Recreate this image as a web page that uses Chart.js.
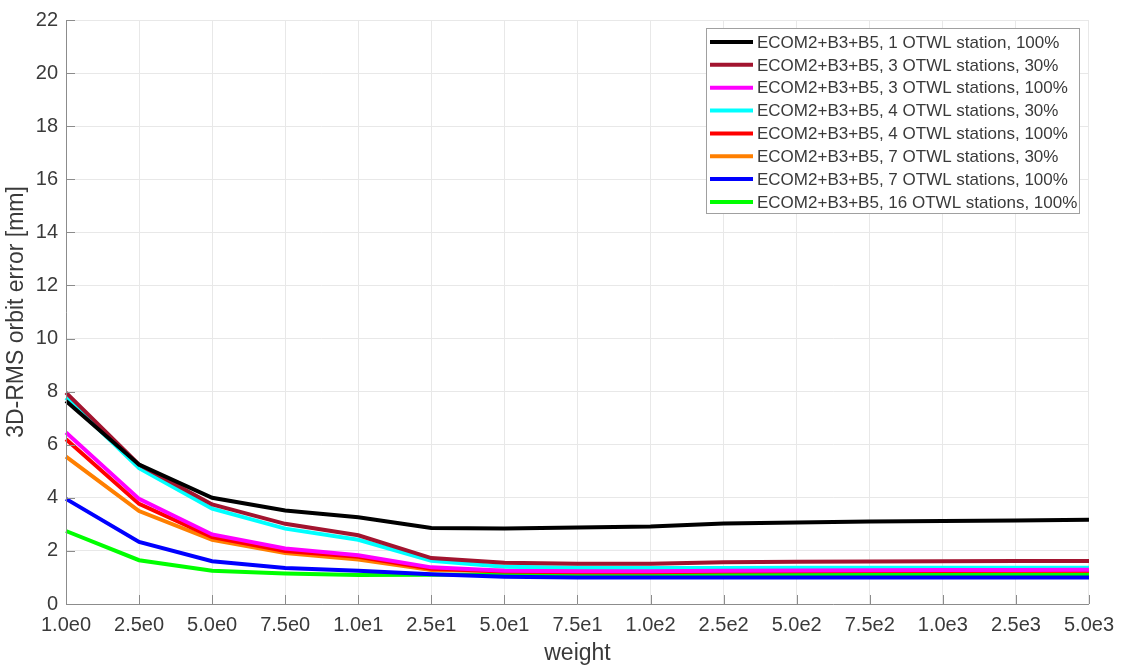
<!DOCTYPE html>
<html>
<head>
<meta charset="utf-8">
<script src="https://cdn.jsdelivr.net/npm/chart.js@4/dist/chart.umd.min.js"></script>
<style>
  html, body { margin: 0; padding: 0; background: #fff; }
  canvas { display: block; }
</style>
</head>
<body>
<canvas id="orbit" width="1123" height="667"></canvas>
<script>
const weights = ['1.0e0', '2.5e0', '5.0e0', '7.5e0', '1.0e1', '2.5e1', '5.0e1', '7.5e1',
    '1.0e2', '2.5e2', '5.0e2', '7.5e2', '1.0e3', '2.5e3', '5.0e3']
const seriesNames = [
    'ECOM2+B3+B5, 1 OTWL station, 100%',
    'ECOM2+B3+B5, 3 OTWL stations, 30%',
    'ECOM2+B3+B5, 3 OTWL stations, 100%',
    'ECOM2+B3+B5, 4 OTWL stations, 30%',
    'ECOM2+B3+B5, 4 OTWL stations, 100%',
    'ECOM2+B3+B5, 7 OTWL stations, 30%',
    'ECOM2+B3+B5, 7 OTWL stations, 100%',
    'ECOM2+B3+B5, 16 OTWL stations, 100%',
]
const st1_100 = [7.65, 5.25, 4.0, 3.52, 3.27, 2.86, 2.84, 2.88, 2.92, 3.03, 3.07, 3.11, 3.13, 3.15, 3.17]
const st3_30 = [7.96, 5.25, 3.75, 3.02, 2.59, 1.73, 1.55, 1.52, 1.52, 1.57, 1.59, 1.60, 1.61, 1.62, 1.62]
const st3_100 = [6.46, 3.96, 2.62, 2.09, 1.84, 1.38, 1.25, 1.23, 1.23, 1.25, 1.26, 1.27, 1.28, 1.28, 1.29]
const st4_30 = [7.77, 5.12, 3.59, 2.84, 2.42, 1.63, 1.40, 1.37, 1.36, 1.36, 1.37, 1.37, 1.37, 1.37, 1.37]
const st4_100 = [6.21, 3.77, 2.52, 2.0, 1.78, 1.33, 1.22, 1.2, 1.2, 1.22, 1.23, 1.24, 1.24, 1.25, 1.25]
const st7_30 = [5.55, 3.50, 2.42, 1.92, 1.68, 1.28, 1.25, 1.24, 1.24, 1.25, 1.25, 1.25, 1.25, 1.25, 1.25]
const st7_100 = [3.96, 2.34, 1.61, 1.36, 1.25, 1.12, 1.03, 1.0, 1.0, 1.0, 1.0, 1.0, 1.0, 1.0, 1.0]
const st16_100 = [2.75, 1.65, 1.25, 1.15, 1.09, 1.10, 1.11, 1.11, 1.11, 1.12, 1.12, 1.12, 1.12, 1.12, 1.12]
const seriesValues = [st1_100, st3_30, st3_100, st4_30, st4_100, st7_30, st7_100, st16_100]
const colors = ['#000000', '#a2142f', '#ff00ff', '#00ffff', '#ff0000', '#ff7f00', '#0000ff', '#00ff00']

const FONT = 'Liberation Sans, Arial, sans-serif'
const TEXT = '#3a3a3a'

// ticks pointing inward, like matlab axes
const innerTicks = {
    id: 'innerTicks',
    afterDatasetsDraw(chart) {
        const ctx = chart.ctx, area = chart.chartArea
        const xs = chart.scales.x, ys = chart.scales.y
        ctx.save()
        ctx.strokeStyle = '#8c8c8c'
        ctx.lineWidth = 1
        ctx.beginPath()
        xs.ticks.forEach((t, i) => {
            const px = Math.round(xs.getPixelForTick(i)) + 0.5
            ctx.moveTo(px, area.bottom)
            ctx.lineTo(px, area.bottom - 9)
        })
        ys.ticks.forEach((t, i) => {
            const py = Math.round(ys.getPixelForTick(i)) + 0.5
            ctx.moveTo(area.left, py)
            ctx.lineTo(area.left + 9, py)
        })
        ctx.moveTo(area.left + 0.5, area.top)
        ctx.lineTo(area.left + 0.5, area.bottom + 0.5)
        ctx.lineTo(area.right, area.bottom + 0.5)
        ctx.stroke()
        ctx.restore()
    },
}

// legend box in the upper right corner of the plot
const boxLegend = {
    id: 'boxLegend',
    afterDraw(chart) {
        const ctx = chart.ctx
        const x0 = 706, y0 = 28, w = 373, h = 185, rowH = 22.85
        ctx.save()
        ctx.fillStyle = '#fff'
        ctx.fillRect(x0, y0, w, h)
        ctx.strokeStyle = '#a0a0a0'
        ctx.lineWidth = 1
        ctx.strokeRect(x0 + 0.5, y0 + 0.5, w, h)
        ctx.font = '17px ' + FONT
        ctx.textBaseline = 'middle'
        chart.data.datasets.forEach((ds, i) => {
            const y = y0 + 14 + i * rowH
            ctx.strokeStyle = ds.borderColor
            ctx.lineWidth = 4
            ctx.beginPath()
            ctx.moveTo(x0 + 4, y)
            ctx.lineTo(x0 + 47, y)
            ctx.stroke()
            ctx.fillStyle = TEXT
            ctx.fillText(ds.label, x0 + 51, y + 1)
        })
        ctx.restore()
    },
}

new Chart(document.getElementById('orbit'), {
    type: 'line',
    data: {
        labels: weights,
        datasets: seriesValues.map((vals, i) => ({
            label: seriesNames[i],
            data: vals,
            borderColor: colors[i],
            backgroundColor: colors[i],
            borderWidth: 4,
            pointRadius: 0,
            tension: 0,
        })),
    },
    options: {
        responsive: false,
        animation: false,
        layout: { padding: { top: 17, right: 33, left: 0, bottom: 0 } },
        plugins: { legend: { display: false }, tooltip: { enabled: false } },
        scales: {
            x: {
                offset: false,
                grid: { color: '#e8e8e8', drawTicks: false },
                border: { display: false },
                ticks: { color: TEXT, font: { family: FONT, size: 20 }, padding: 9, maxRotation: 0, autoSkip: false },
                title: { display: true, text: 'weight', color: TEXT, font: { family: FONT, size: 23 }, padding: { top: 0, bottom: 0 } },
                afterFit(scale) { scale.height = 63 },
            },
            y: {
                min: 0,
                max: 22,
                grid: { color: '#e8e8e8', drawTicks: false },
                border: { display: false },
                ticks: { stepSize: 2, color: TEXT, font: { family: FONT, size: 20 }, padding: 8 },
                title: { display: true, text: '3D-RMS orbit error [mm]', color: TEXT, font: { family: FONT, size: 23 }, padding: 3 },
                afterFit(scale) { scale.width = 66 },
            },
        },
    },
    plugins: [innerTicks, boxLegend],
})
</script>
</body>
</html>
